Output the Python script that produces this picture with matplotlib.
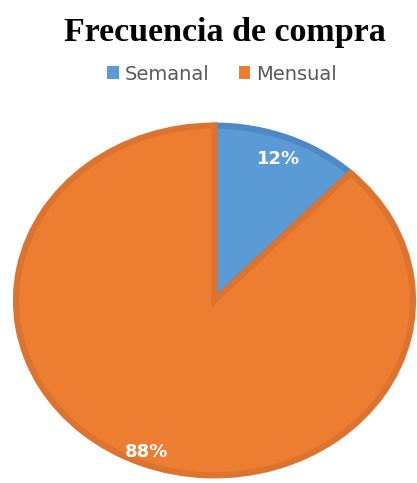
import numpy as np
import matplotlib.pyplot as plt
from matplotlib.patches import Patch

# Purchase frequency shares
categories = ['Semanal', 'Mensual']
shares = [12, 88]
fill_colors = ['#5b9bd5', '#ed7d31']
edge_colors = ['#4f88c6', '#dc7430']
label_dist = [0.86, 0.92]

W, H = 417, 483
fig = plt.figure(figsize=(W / 100, H / 100), dpi=100)

# Pie drawn in a wide axes so it comes out slightly elliptical
ax = fig.add_axes([13 / W, 5 / H, 403 / W, 355 / H])
wedges, texts, autotexts = ax.pie(
    shares, colors=fill_colors, startangle=90, counterclock=False,
    radius=0.985, autopct='%1.0f%%', pctdistance=1.0,
    wedgeprops=dict(linewidth=4.5),
    textprops=dict(color='white', fontsize=13, fontweight='bold',
                   family='DejaVu Sans'))
for w, ec, t, d in zip(wedges, edge_colors, autotexts, label_dist):
    w.set_edgecolor(ec)
    mid = np.deg2rad((w.theta1 + w.theta2) / 2)
    t.set_position((d * np.cos(mid), d * np.sin(mid)))
ax.set_xlim(-1, 1)
ax.set_ylim(-1, 1)
ax.set_aspect('auto')
ax.axis('off')

fig.text(225 / W, 1 - 32 / H, 'Frecuencia de compra', ha='center', va='center',
         fontsize=24.5, fontweight='bold', family='Liberation Serif')

handles = [Patch(facecolor=c, edgecolor='none') for c in fill_colors]
fig.legend(handles, categories, loc='center', bbox_to_anchor=(222 / W, 1 - 74 / H),
           ncol=2, frameon=False, fontsize=14, handlelength=0.6, handleheight=0.6,
           handletextpad=0.3, columnspacing=1.5, labelcolor='#595959')

fig.savefig('out.png', dpi=100)
